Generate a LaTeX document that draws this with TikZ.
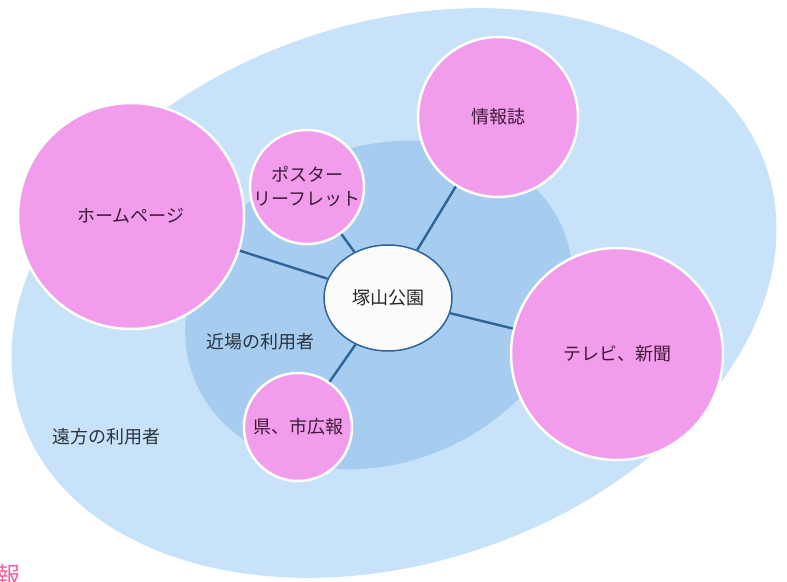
\documentclass[tikz,border=0pt]{standalone}
\usepackage{fontspec}
\setmainfont{Noto Sans CJK JP}
\usepackage{tikz}
\usetikzlibrary{shapes.geometric}
\usepackage{xcolor}
\definecolor{azulclaro}{HTML}{C8E3F9}
\definecolor{azulmedio}{HTML}{A6CDF0}
\definecolor{rosa}{HTML}{F29CEC}
\definecolor{linea}{HTML}{2F6496}
\definecolor{morado}{HTML}{3F1A38}
\definecolor{grisosc}{HTML}{2B323D}
\definecolor{rosafuerte}{HTML}{F2619C}

\begin{document}
\begin{tikzpicture}[x=1pt,y=1pt,
  medio/.style={circle,fill=rosa,draw=white,line width=2.5pt,text=morado,
    inner sep=0pt,align=center,font=\fontsize{18}{24}\selectfont},
  rotulo/.style={text=grisosc,font=\fontsize{18}{22}\selectfont},
  enlace/.style={linea,line width=2.4pt}]
  \useasboundingbox (0,0) rectangle (787,581);
  % Elipse exterior
  \fill[azulclaro,rotate around={18.5:(394,288)}] (394,288) ellipse[x radius=393,y radius=270];
  % Elipse interior
  \fill[azulmedio,rotate around={22:(379,276)}] (379,276) ellipse[x radius=199,y radius=158];
  % Rotulos de las zonas
  \node[rotulo] (cerca) at (260,239) {近場の利用者};
  \node[rotulo] (lejos) at (106,144) {遠方の利用者};
  % Medios
  \node[medio,minimum size=226] (home) at (131,365) {ホームページ};
  \node[medio,minimum size=106] (poster) at (307,394) {ポスター\\リーフレット};
  \node[medio,minimum size=160] (info) at (498,464) {情報誌};
  \node[medio,minimum size=212] (tv) at (617,227) {テレビ、新聞};
  \node[medio,minimum size=108] (ken) at (298,154) {県、市広報};
  % Centro
  \node[ellipse,fill=white!97!gray,draw=linea,line width=1.5pt,minimum width=128,
    minimum height=106,text=black!85,font=\fontsize{18}{22}\selectfont] (parque) at (388,283) {塚山公園};
  % Enlaces
  \foreach \m in {home,poster,info,tv,ken}
    \draw[enlace] (parque) -- (\m);
  % Fragmento
  \node[text=rosafuerte,font=\fontsize{24}{24}\selectfont] (frag) at (9,6) {報};
\end{tikzpicture}
\end{document}
